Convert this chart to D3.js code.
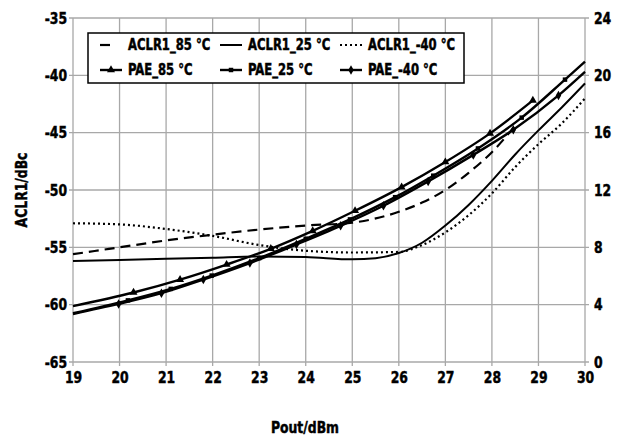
<!DOCTYPE html>
<html><head><meta charset="utf-8">
<script src="https://cdn.jsdelivr.net/npm/d3@7"></script>
<style>
body{margin:0;background:#fff}
text{font-family:"DejaVu Sans Condensed","DejaVu Sans",sans-serif;font-stretch:condensed;font-weight:bold;fill:#000;stroke:#000;stroke-width:0.45px}
</style>
</head><body><svg id="c" width="623" height="440"></svg>
<script>
// ---- data ----
const xTicks = [19,20,21,22,23,24,25,26,27,28,29,30];
const yLeftTicks = [-65,-60,-55,-50,-45,-40,-35];
const yRightTicks = [0,4,8,12,16,20,24];

const aclr85X = [19,20,21,22,23,24,25,26,26.5,27,27.5,28,28.5];
const aclr85Y = [-55.6,-55.0,-54.4,-53.9,-53.45,-53.1,-52.85,-51.9,-51.1,-50.0,-48.5,-46.7,-44.4];

const aclr25X = [19,20,21,22,23,24,25,25.5,26,26.5,27,27.5,28,28.5,29,29.5,30];
const aclr25Y = [-56.2,-56.1,-56.0,-55.9,-55.8,-55.85,-56.05,-55.95,-55.5,-54.6,-53.1,-51.3,-49.2,-46.9,-44.8,-42.8,-40.7];

const aclrM40X = [19,20,21,22,23,24,25,26,26.5,27,27.5,28,28.5,29,29.5,30];
const aclrM40Y = [-52.9,-53.0,-53.4,-54.0,-54.8,-55.3,-55.45,-55.4,-54.8,-53.7,-52.2,-50.3,-48.0,-46.0,-44.2,-42.0];

const pae85X = [19,20.3,21.3,22.3,23.25,24.15,25.06,26.06,27.0,27.96,28.88];
const pae85Y = [3.9,4.85,5.75,6.8,7.9,9.15,10.55,12.2,13.95,15.95,18.25];

const pae25X = [19,20.18,21.1,21.98,23.0,24.0,24.95,25.92,26.74,27.7,28.64,29.57,30];
const pae25Y = [3.4,4.3,5.1,6.03,7.25,8.6,9.95,11.5,13.0,14.9,17.05,19.7,20.95];

const paeM40X = [19,19.98,20.9,21.8,22.8,23.8,24.75,25.67,26.63,27.6,28.46,29.43,30];
const paeM40Y = [3.35,4.05,4.8,5.75,6.9,8.2,9.5,10.9,12.6,14.45,16.2,18.6,20.25];

const legendLabels = ["ACLR1_85 °C","ACLR1_25 °C","ACLR1_-40 °C","PAE_85 °C","PAE_25 °C","PAE_-40 °C"];

// ---- chart ----
const svg = d3.select("#c");
const L=73, R=585, T=18, B=362;
const x = d3.scaleLinear().domain([19,30]).range([L,R]);
const yL = d3.scaleLinear().domain([-65,-35]).range([B,T]);
const yR = d3.scaleLinear().domain([0,24]).range([B,T]);
const grid = "#a8a8a8";
const squeeze = (sel,f)=>sel.each(function(){
  const w=this.getComputedTextLength();
  d3.select(this).attr("textLength",w*f).attr("lengthAdjust","spacingAndGlyphs");
});

// gridlines
const g = svg.append("g");
g.selectAll(".vg").data(xTicks).join("line")
  .attr("x1",d=>x(d)).attr("x2",d=>x(d)).attr("y1",T).attr("y2",B+4)
  .attr("stroke",grid).attr("stroke-width",1.3);
g.selectAll(".hg").data(yLeftTicks).join("line")
  .attr("x1",L-4).attr("x2",R+4).attr("y1",d=>yL(d)).attr("y2",d=>yL(d))
  .attr("stroke",grid).attr("stroke-width",1.3);

// axes labels via d3 axes
const fs = 16;
const ax = svg.append("g").attr("transform",`translate(0,${B})`)
  .call(d3.axisBottom(x).tickValues(xTicks).tickSize(0).tickPadding(9).tickFormat(d3.format("d")));
const ayl = svg.append("g").attr("transform",`translate(${L},0)`)
  .call(d3.axisLeft(yL).tickValues(yLeftTicks).tickSize(0).tickPadding(6).tickFormat(d=>d));
const ayr = svg.append("g").attr("transform",`translate(${R},0)`)
  .call(d3.axisRight(yR).tickValues(yRightTicks).tickSize(0).tickPadding(9).tickFormat(d=>d));
[ax,ayl,ayr].forEach(a=>{
  a.select(".domain").remove();
  a.selectAll("text").attr("font-size",fs).attr("font-family",null).attr("fill","#000");
  squeeze(a.selectAll("text"),0.86);
});
ax.selectAll("text").attr("dy","0.75em");

// axis titles
squeeze(svg.append("text").attr("x",305).attr("y",433).attr("text-anchor","middle").attr("font-size",fs).text("Pout/dBm"),0.86);
squeeze(svg.append("text").attr("transform",`translate(27,190) rotate(-90)`).attr("text-anchor","middle").attr("font-size",fs).text("ACLR1/dBc"),0.86);

// lines
const mk = (xs,ys)=>xs.map((v,i)=>[v,ys[i]]);
const lineL = d3.line().x(d=>x(d[0])).y(d=>yL(d[1])).curve(d3.curveMonotoneX);
const lineR = d3.line().x(d=>x(d[0])).y(d=>yR(d[1])).curve(d3.curveMonotoneX);

const aclrSeries = [
  {d:mk(aclr85X,aclr85Y), dash:"10,6", w:2.2},
  {d:mk(aclr25X,aclr25Y), dash:null, w:2},
  {d:mk(aclrM40X,aclrM40Y), dash:"2,3", w:2.2}
];
aclrSeries.forEach(s=>{
  svg.append("path").datum(s.d).attr("d",lineL).attr("fill","none").attr("stroke","#000")
    .attr("stroke-width",s.w).attr("stroke-dasharray",s.dash);
});

const paeSeries = [
  {d:mk(pae85X,pae85Y), sym:d3.symbolTriangle, size:28},
  {d:mk(pae25X,pae25Y), sym:d3.symbolSquare, size:20},
  {d:mk(paeM40X,paeM40Y), sym:d3.symbolDiamond, size:26}
];
paeSeries.forEach(s=>{
  svg.append("path").datum(s.d).attr("d",lineR).attr("fill","none").attr("stroke","#000").attr("stroke-width",2.4);
});
paeSeries.forEach(s=>{
  const pts = s.d.slice(1, s.d[s.d.length-1][0]>=30 ? -1 : undefined);
  svg.selectAll(null).data(pts).join("path")
    .attr("transform",d=>`translate(${x(d[0])},${yR(d[1])})`)
    .attr("d",d3.symbol().type(s.sym).size(s.size)).attr("fill","#000");
});

// legend
const lg = svg.append("g");
lg.append("rect").attr("x",88).attr("y",33).attr("width",376).attr("height",50)
  .attr("fill","#fff").attr("stroke","#000").attr("stroke-width",1.5);
const colX = [100,220,340];
const rowY = [45,70];
const lfs = 15;
legendLabels.forEach((lab,i)=>{
  const c = i%3, r = Math.floor(i/3);
  const cx = colX[c], cy = rowY[r];
  if(r===0){
    const s = aclrSeries[c];
    lg.append("line").attr("x1",cx).attr("x2",cx+22).attr("y1",cy).attr("y2",cy)
      .attr("stroke","#000").attr("stroke-width",s.w)
      .attr("stroke-dasharray", c===0 ? "10,20" : s.dash);
  } else {
    const s = paeSeries[c];
    lg.append("line").attr("x1",cx).attr("x2",cx+22).attr("y1",cy).attr("y2",cy)
      .attr("stroke","#000").attr("stroke-width",2.4);
    lg.append("path").attr("transform",`translate(${cx+11},${cy})`)
      .attr("d",d3.symbol().type(s.sym).size(s.size)).attr("fill","#000");
  }
  squeeze(lg.append("text").attr("x",cx+28).attr("y",cy).attr("dy","0.35em").attr("font-size",lfs).text(lab),0.86);
});
</script>
</body></html>
